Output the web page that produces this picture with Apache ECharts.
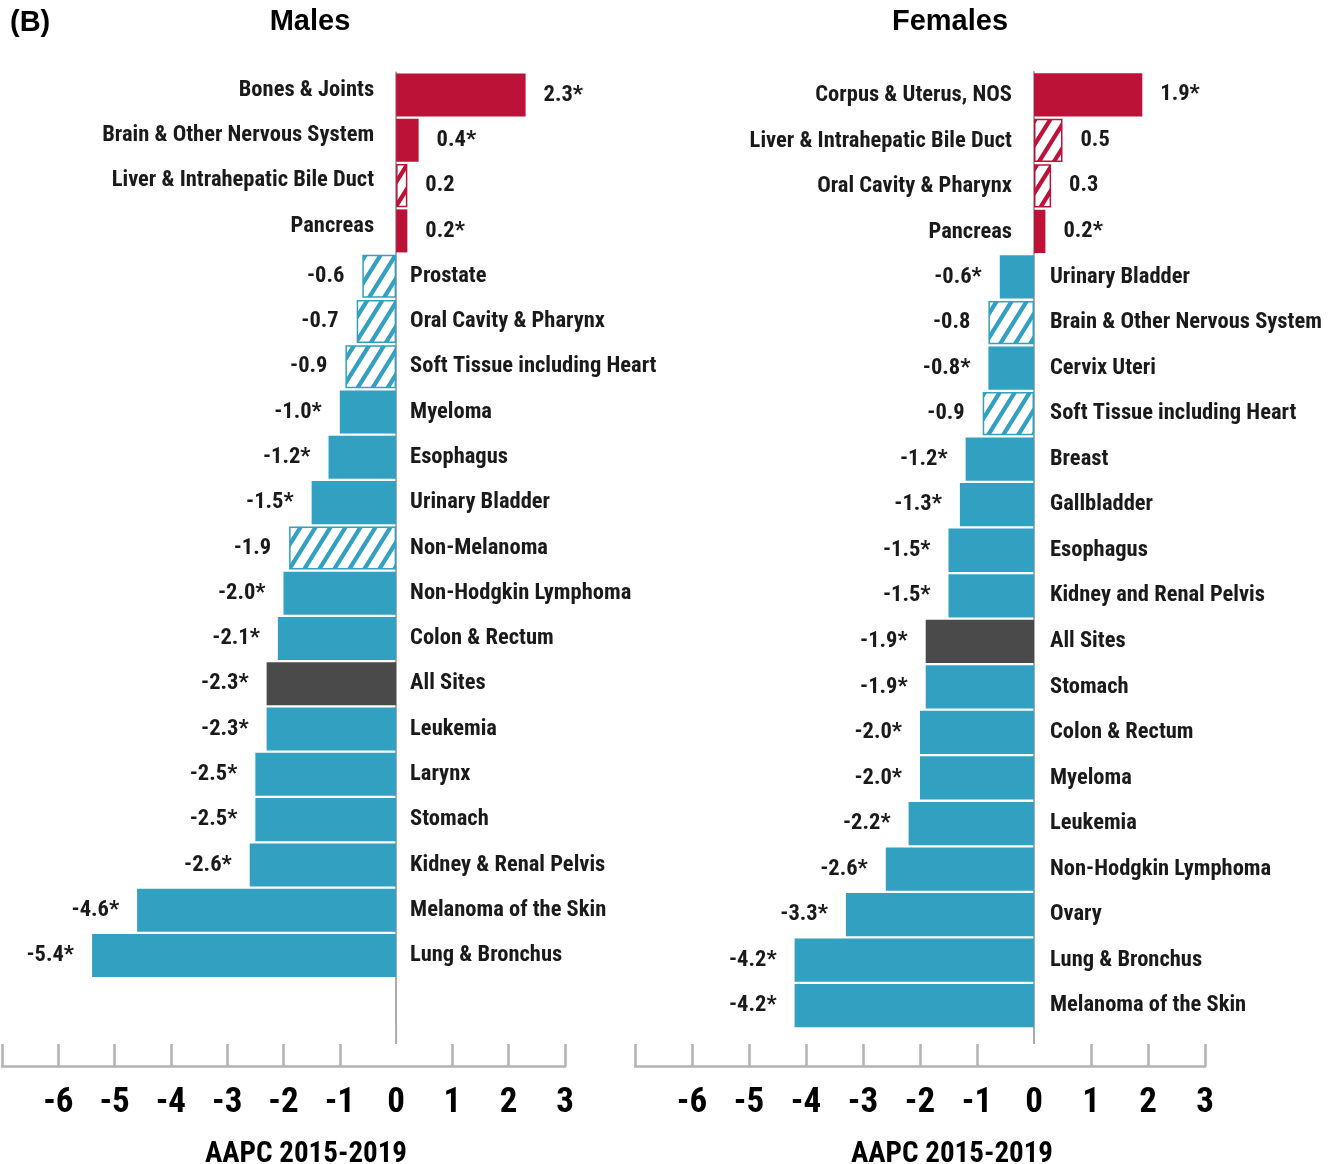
<!DOCTYPE html>
<html>
<head>
<meta charset="utf-8">
<script src="https://cdn.jsdelivr.net/npm/echarts@6/dist/echarts.min.js"></script>
<style>
html,body{margin:0;padding:0;background:#fff;}
#chart{width:1341px;height:1164px;}
</style>
</head>
<body>
<div id="chart"></div>
<script>
// ---------- DATA ----------
const maleCategories = ['Bones & Joints','Brain & Other Nervous System','Liver & Intrahepatic Bile Duct','Pancreas','Prostate','Oral Cavity & Pharynx','Soft Tissue including Heart','Myeloma','Esophagus','Urinary Bladder','Non-Melanoma','Non-Hodgkin Lymphoma','Colon & Rectum','All Sites','Leukemia','Larynx','Stomach','Kidney & Renal Pelvis','Melanoma of the Skin','Lung & Bronchus'];
const maleValues = [2.3, 0.4, 0.2, 0.2, -0.6, -0.7, -0.9, -1.0, -1.2, -1.5, -1.9, -2.0, -2.1, -2.3, -2.3, -2.5, -2.5, -2.6, -4.6, -5.4];
const maleSignificant = [true, true, false, true, false, false, false, true, true, true, false, true, true, true, true, true, true, true, true, true];

const femaleCategories = ['Corpus & Uterus, NOS','Liver & Intrahepatic Bile Duct','Oral Cavity & Pharynx','Pancreas','Urinary Bladder','Brain & Other Nervous System','Cervix Uteri','Soft Tissue including Heart','Breast','Gallbladder','Esophagus','Kidney and Renal Pelvis','All Sites','Stomach','Colon & Rectum','Myeloma','Leukemia','Non-Hodgkin Lymphoma','Ovary','Lung & Bronchus','Melanoma of the Skin'];
const femaleValues = [1.9, 0.5, 0.3, 0.2, -0.6, -0.8, -0.8, -0.9, -1.2, -1.3, -1.5, -1.5, -1.9, -1.9, -2.0, -2.0, -2.2, -2.6, -3.3, -4.2, -4.2];
const femaleSignificant = [true, false, false, true, true, false, true, false, true, true, true, true, true, true, true, true, true, true, true, true, true];

const tickValues = [-7, -6, -5, -4, -3, -2, -1, 1, 2, 3];
const tickLabels = [-6, -5, -4, -3, -2, -1, 0, 1, 2, 3];
const axisTitle = 'AAPC 2015-2019';
const panelTitles = ['Males', 'Females'];

// ---------- STYLE ----------
const RED = '#BC1238', BLUE = '#31A0C1', DARK = '#4A4A4A';
const COND = "'Roboto Condensed','Open Sans Condensed','DejaVu Sans Condensed',sans-serif";
const ARIAL = "'Liberation Sans',Arial,sans-serif";

function hatch(color){
  const w = 15, h = 24, c = document.createElement('canvas');
  c.width = w; c.height = h;
  const g = c.getContext('2d');
  g.fillStyle = '#fff'; g.fillRect(0,0,w,h);
  g.strokeStyle = color; g.lineWidth = 4.2; g.lineCap = 'butt';
  g.beginPath();
  g.moveTo(0,h); g.lineTo(w,0);
  g.moveTo(-0.3*w,0.3*h); g.lineTo(0.3*w,-0.3*h);
  g.moveTo(0.7*w,1.3*h); g.lineTo(1.3*w,0.7*h);
  g.stroke();
  return c;
}
const hatchRed = hatch(RED), hatchBlue = hatch(BLUE);

function fmt(v, sig){ return v.toFixed(1) + (sig ? '*' : ''); }

function barItems(cats, vals, sig){
  return vals.map((v,i)=>{
    const base = v >= 0 ? RED : BLUE;
    let itemStyle;
    if (cats[i] === 'All Sites') itemStyle = {color: DARK};
    else if (sig[i]) itemStyle = {color: base};
    else itemStyle = {color: {image: v >= 0 ? hatchRed : hatchBlue, repeat: 'repeat'}, borderColor: base, borderWidth: 1.5};
    return {
      value: v, itemStyle,
      label: {position: v >= 0 ? 'right' : 'left', distance: 18, formatter: fmt(v, sig[i])}
    };
  });
}
function nameItems(cats, vals, posShift, negDist){
  return vals.map((v,i)=>({
    value: v,
    label: {position: v >= 0 ? 'left' : 'right', distance: v >= 0 ? 22 : negDist,
            offset: v >= 0 ? [0, posShift] : [0, 0], formatter: cats[i]}
  }));
}

const grids = [
  {left: 2, top: 72.4, width: 563, height: 951, outerBoundsMode: 'none', containLabel: false},
  {left: 635, top: 72, width: 570, height: 956.5, outerBoundsMode: 'none', containLabel: false}
];
const namePadding = [45, 64];
const BASE_Y = 1066;

const labelStyle = {show: true, fontFamily: COND, fontWeight: 'bold', fontSize: 22.5, color: '#1a1a1a'};

function xAxis(i){
  const g = grids[i];
  return {
    type: 'value', gridIndex: i, min: -7, max: 3, interval: 1,
    offset: BASE_Y - (g.top + g.height),
    axisLine: {show: true, onZero: false, lineStyle: {color: '#B3B3B3', width: 2.5}},
    axisTick: {show: true, inside: true, length: 22, customValues: tickValues, lineStyle: {color: '#B3B3B3', width: 2.5}},
    axisLabel: {customValues: tickLabels, fontFamily: COND, fontWeight: 'bold', fontSize: 35, color: '#000', margin: 20},
    splitLine: {show: false},
    name: axisTitle, nameLocation: 'middle', nameGap: 74,
    nameTextStyle: {fontFamily: COND, fontWeight: 'bold', fontSize: 29, color: '#000', padding: [0,0,0,namePadding[i]]}
  };
}
function yAxis(i, cats){
  return {
    type: 'category', gridIndex: i, inverse: true, data: cats, max: 20,
    axisLine: {show: true, onZero: true, lineStyle: {color: '#ABABAB', width: 2}},
    axisTick: {show: false}, axisLabel: {show: false}, splitLine: {show: false}
  };
}
function series(i, cats, vals, sig, posShift, negDist){
  return [
    {type: 'bar', xAxisIndex: i, yAxisIndex: i, barCategoryGap: '5%', barGap: '-100%',
     data: barItems(cats, vals, sig), label: labelStyle, silent: true, z: 2},
    {type: 'bar', xAxisIndex: i, yAxisIndex: i, barCategoryGap: '5%', barGap: '-100%',
     data: nameItems(cats, vals, posShift, negDist), itemStyle: {color: 'rgba(0,0,0,0)'}, label: labelStyle, silent: true, z: 3}
  ];
}

const chart = echarts.init(document.getElementById('chart'));
chart.setOption({
  animation: false,
  backgroundColor: '#fff',
  grid: grids,
  xAxis: [xAxis(0), xAxis(1)],
  yAxis: [yAxis(0, maleCategories), yAxis(1, femaleCategories)],
  series: [].concat(series(0, maleCategories, maleValues, maleSignificant, -5, 14), series(1, femaleCategories, femaleValues, femaleSignificant, 1, 16)),
  graphic: [
    {type: 'text', left: 10, top: 8, style: {text: '(B)', font: "bold 29px " + ARIAL, fill: '#000'}},
    {type: 'text', x: 310, y: 22, style: {text: panelTitles[0], font: "bold 29px " + ARIAL, fill: '#000', textAlign: 'center', textVerticalAlign: 'middle'}},
    {type: 'text', x: 950, y: 22, style: {text: panelTitles[1], font: "bold 29px " + ARIAL, fill: '#000', textAlign: 'center', textVerticalAlign: 'middle'}}
  ]
});

// zero-line stubs below the bar area down to the tick tops
const stubs = [0,1].map(i=>{
  const g = grids[i];
  const x0 = chart.convertToPixel({xAxisIndex: i}, 0);
  return {id: 'stub' + i, type: 'line', silent: true, shape: {x1: x0, y1: g.top + g.height, x2: x0, y2: BASE_Y - 22}, style: {stroke: '#ABABAB', lineWidth: 2}};
});
chart.setOption({graphic: stubs});
</script>
</body>
</html>
